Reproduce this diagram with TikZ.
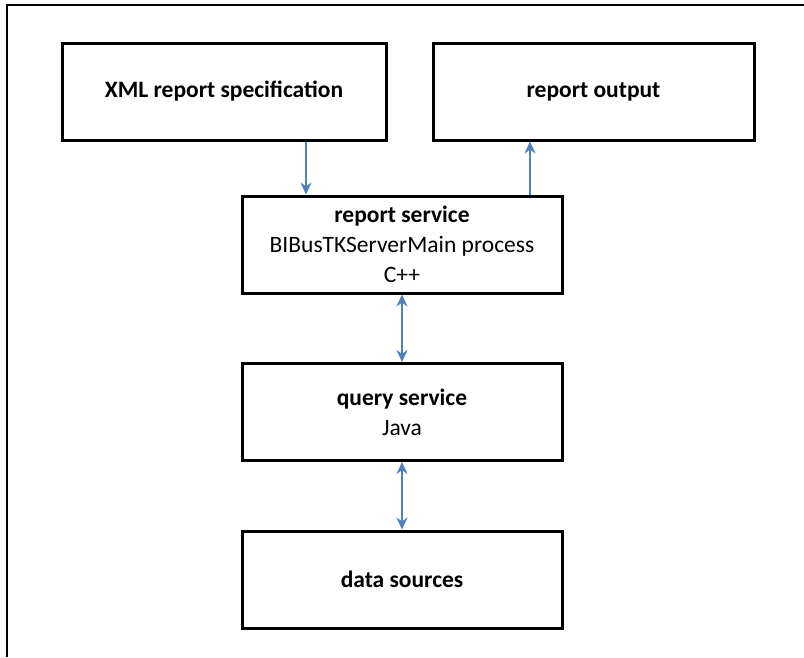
\documentclass[tikz,border=0pt]{standalone}
\usepackage{fontspec}
\setmainfont{Carlito}
\usetikzlibrary{arrows.meta,positioning}
\definecolor{linkblue}{RGB}{79,129,189}

\begin{document}
\begin{tikzpicture}
[x=1pt,y=-1pt,
 block/.style={rectangle,draw,line width=3pt,inner sep=0pt,align=center,minimum height=97pt,font=\fontsize{23.5}{30}\selectfont},
 link/.style={draw=linkblue,line width=2.8pt,-{Stealth[length=12pt,width=11pt]}},
 twoway/.style={link,{Stealth[length=12pt,width=11pt]}-{Stealth[length=12pt,width=11pt]}}]
\useasboundingbox (0,0) rectangle (804,657);
\draw[line width=1.3pt] (804,5) -- (7,5) -- (7,657);
% top row
\node[block,minimum width=324pt] (spec) at (224,91.5) {\textbf{XML report specification}};
\node[block,minimum width=321pt] (output) at (593.5,91.5) {\textbf{report output}};
% middle column
\node[block,minimum width=320pt] (report) at (402,244.5) {\textbf{report service}\\BIBusTKServerMain process\\C++};
\node[block,minimum width=320pt] (query) at (402,412) {\textbf{query service}\\Java};
\node[block,minimum width=320pt] (data) at (402,579.5) {\textbf{data sources}};
% connectors
\coordinate (inx) at (306,0);
\coordinate (outx) at (530,0);
\draw[link] (spec.south -| inx) -- (report.north -| inx);
\draw[link] (report.north -| outx) -- (output.south -| outx);
\draw[twoway] (report) -- (query);
\draw[twoway] (query) -- (data);
\end{tikzpicture}
\end{document}
